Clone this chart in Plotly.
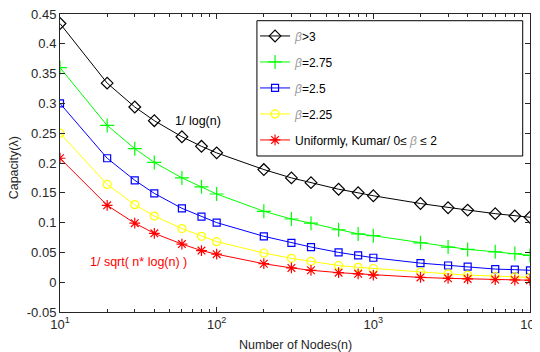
import plotly.graph_objects as go

nodes = [10, 20, 30, 40, 60, 80, 100, 200, 300, 400, 600, 800,
         1000, 2000, 3000, 4000, 6000, 8000, 10000]

beta_gt3 = [0.434, 0.334, 0.294, 0.271, 0.244, 0.228, 0.217, 0.189, 0.175, 0.167,
            0.156, 0.150, 0.145, 0.132, 0.125, 0.121, 0.115, 0.111, 0.109]
beta_275 = [0.360, 0.263, 0.224, 0.201, 0.175, 0.160, 0.148, 0.119, 0.106, 0.099,
            0.088, 0.081, 0.078, 0.066, 0.059, 0.055, 0.051, 0.048, 0.045]
beta_25 = [0.300, 0.208, 0.171, 0.149, 0.124, 0.110, 0.100, 0.077, 0.066, 0.059,
           0.050, 0.045, 0.041, 0.032, 0.028, 0.026, 0.022, 0.021, 0.020]
beta_225 = [0.250, 0.164, 0.130, 0.111, 0.090, 0.077, 0.068, 0.049, 0.040, 0.035,
            0.028, 0.025, 0.023, 0.017, 0.014, 0.012, 0.010, 0.009, 0.008]
uniform = [0.208, 0.129, 0.099, 0.082, 0.064, 0.053, 0.047, 0.031, 0.024, 0.020,
           0.016, 0.014, 0.012, 0.008, 0.0065, 0.0055, 0.0044, 0.0037, 0.0033]

x_tick_vals = [10, 100, 1000, 10000]
x_tick_text = ["10<sup>1</sup>", "10<sup>2</sup>", "10<sup>3</sup>", "10<sup>4</sup>"]
y_tick_vals = [-0.05, 0, 0.05, 0.1, 0.15, 0.2, 0.25, 0.3, 0.35, 0.4, 0.45]
y_tick_text = ["-0.05", "0", "0.05", "0.1", "0.15", "0.2", "0.25", "0.3", "0.35", "0.4", "0.45"]

B = "<i><span style='color:#9a9a9a'>β</span></i>"
series = [
    (beta_gt3, B + ">3", "#000000", "diamond-open", 9),
    (beta_275, B + "=2.75", "#00ff00", "cross-thin-open", 10),
    (beta_25, B + "=2.5", "#0000ff", "square-open", 7),
    (beta_225, B + "=2.25", "#ffff00", "circle-open", 8),
    (uniform, "Uniformly, Kumar/ 0≤ " + B + " ≤ 2", "#ff0000", "asterisk-open", 9),
]

fig = go.Figure()
for i, (vals, name, col, sym, sz) in enumerate(series):
    fig.add_trace(go.Scatter(
        x=nodes, y=vals, name=name, mode="lines+markers",
        line=dict(color=col, width=1),
        marker=dict(symbol=sym, size=sz, color=col, line=dict(color=col, width=1.2)),
        legendgroup="g%d" % i,
    ))

minor_vals = [v * m for v in (10, 100, 1000) for m in range(2, 10)]
axis_col = "#262626"
font = "Liberation Sans, Arial, sans-serif"

# The page body has an 8px default margin, so the figure is sized to fit the window.
fig.update_layout(
    width=532, height=344,
    margin=dict(l=52, r=10, t=6, b=40, autoexpand=False),
    paper_bgcolor="white", plot_bgcolor="white",
    font=dict(family=font, size=13, color=axis_col),
    showlegend=True,
    legend=dict(
        x=0.415, y=0.975, xanchor="left", yanchor="top",
        bgcolor="rgba(0,0,0,0)", borderwidth=0,
        font=dict(size=12, color="#000000"),
        tracegroupgap=7, itemwidth=30,
    ),
    xaxis=dict(
        type="log", range=[1, 4], automargin=False, ticklabeloverflow="allow",
        tickvals=x_tick_vals, ticktext=x_tick_text,
        ticks="inside", ticklen=5, tickcolor=axis_col,
        minor=dict(tickvals=minor_vals, ticks="inside", ticklen=3, tickcolor=axis_col),
        showline=True, linecolor=axis_col, linewidth=1, mirror="ticks",
        showgrid=False, zeroline=False,
    ),
    yaxis=dict(
        range=[-0.05, 0.45], automargin=False, ticklabeloverflow="allow",
        tickvals=y_tick_vals, ticktext=y_tick_text,
        ticks="inside", ticklen=5, tickcolor=axis_col,
        showline=True, linecolor=axis_col, linewidth=1, mirror="ticks",
        showgrid=False, zeroline=False,
    ),
    shapes=[dict(type="rect", xref="paper", yref="paper",
                 x0=0.419, x1=0.9845, y0=0.5235, y1=0.9775,
                 line=dict(color="#000000", width=1), fillcolor="rgba(0,0,0,0)")],
    annotations=[
        dict(x=1.879, y=0.27, xref="x", yref="y", text="1/ log(n)", showarrow=False,
             font=dict(size=12.5, color="#000000")),
        dict(x=1.50, y=0.034, xref="x", yref="y", text="1/ sqrt( n* log(n) )", showarrow=False,
             font=dict(size=12.5, color="#ff0000")),
        dict(x=0.5, y=-0.111, xref="paper", yref="paper", text="Number of Nodes(n)",
             showarrow=False, yanchor="middle", font=dict(size=12.5, color=axis_col)),
        dict(x=-0.096, y=0.485, xref="paper", yref="paper", text="Capacity(λ)",
             showarrow=False, textangle=-90, xanchor="center", font=dict(size=12.5, color=axis_col)),
    ],
)

fig.write_html("out.html")
